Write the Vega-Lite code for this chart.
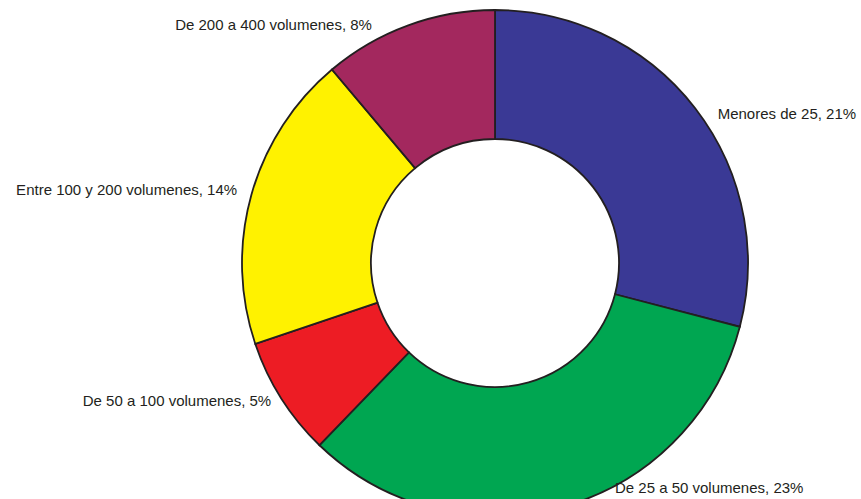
{
  "$schema": "https://vega.github.io/schema/vega-lite/v6.json",
  "autosize": {"type": "none"},
  "width": 732,
  "height": 472,
  "padding": {"left": 129, "top": 27, "right": 0, "bottom": 0},
  "background": "white",
  "config": {"view": {"stroke": null}, "text": {"font": "Liberation Sans", "fontSize": 15, "fill": "#231f20"}},
  "data": {"values": [
    {"cat": "Menores de 25", "label": "Menores de 25, 21%", "value": 20.6, "orden": 1},
    {"cat": "De 25 a 50 volumenes", "label": "De 25 a 50 volumenes, 23%", "value": 23.5, "orden": 2},
    {"cat": "De 50 a 100 volumenes", "label": "De 50 a 100 volumenes, 5%", "value": 5.4, "orden": 3},
    {"cat": "Entre 100 y 200 volumenes", "label": "Entre 100 y 200 volumenes, 14%", "value": 13.5, "orden": 4},
    {"cat": "De 200 a 400 volumenes", "label": "De 200 a 400 volumenes, 8%", "value": 7.9, "orden": 5}
  ]},
  "layer": [
    {
      "mark": {"type": "arc", "outerRadius": 253, "innerRadius": 124, "stroke": "#231f20", "strokeWidth": 1.8},
      "encoding": {
        "theta": {"field": "value", "type": "quantitative", "stack": true},
        "order": {"field": "orden", "type": "quantitative"},
        "color": {
          "field": "cat", "type": "nominal", "legend": null,
          "scale": {
            "domain": ["Menores de 25", "De 25 a 50 volumenes", "De 50 a 100 volumenes", "Entre 100 y 200 volumenes", "De 200 a 400 volumenes"],
            "range": ["#3a3995", "#00a651", "#ed1c24", "#fff200", "#a3285e"]
          }
        }
      }
    },
    {
      "mark": {"type": "text", "radius": 268, "thetaOffset": 0.068, "align": "left", "baseline": "middle"},
      "encoding": {
        "theta": {"field": "value", "type": "quantitative", "stack": true},
        "order": {"field": "orden", "type": "quantitative"},
        "detail": {"field": "cat", "type": "nominal"},
        "text": {"condition": {"test": "datum.orden === 1", "field": "label"}, "value": ""}
      }
    },
    {
      "mark": {"type": "text", "radius": 255, "thetaOffset": -0.215, "align": "left", "baseline": "middle"},
      "encoding": {
        "theta": {"field": "value", "type": "quantitative", "stack": true},
        "order": {"field": "orden", "type": "quantitative"},
        "detail": {"field": "cat", "type": "nominal"},
        "text": {"condition": {"test": "datum.orden === 2", "field": "label"}, "value": ""}
      }
    },
    {
      "mark": {"type": "text", "radius": 263, "thetaOffset": 0.012, "align": "right", "baseline": "middle"},
      "encoding": {
        "theta": {"field": "value", "type": "quantitative", "stack": true},
        "order": {"field": "orden", "type": "quantitative"},
        "detail": {"field": "cat", "type": "nominal"},
        "text": {"condition": {"test": "datum.orden === 3", "field": "label"}, "value": ""}
      }
    },
    {
      "mark": {"type": "text", "radius": 268, "thetaOffset": 0.003, "align": "right", "baseline": "middle"},
      "encoding": {
        "theta": {"field": "value", "type": "quantitative", "stack": true},
        "order": {"field": "orden", "type": "quantitative"},
        "detail": {"field": "cat", "type": "nominal"},
        "text": {"condition": {"test": "datum.orden === 4", "field": "label"}, "value": ""}
      }
    },
    {
      "mark": {"type": "text", "radius": 268, "thetaOffset": -0.127, "align": "right", "baseline": "middle"},
      "encoding": {
        "theta": {"field": "value", "type": "quantitative", "stack": true},
        "order": {"field": "orden", "type": "quantitative"},
        "detail": {"field": "cat", "type": "nominal"},
        "text": {"condition": {"test": "datum.orden === 5", "field": "label"}, "value": ""}
      }
    }
  ]
}
